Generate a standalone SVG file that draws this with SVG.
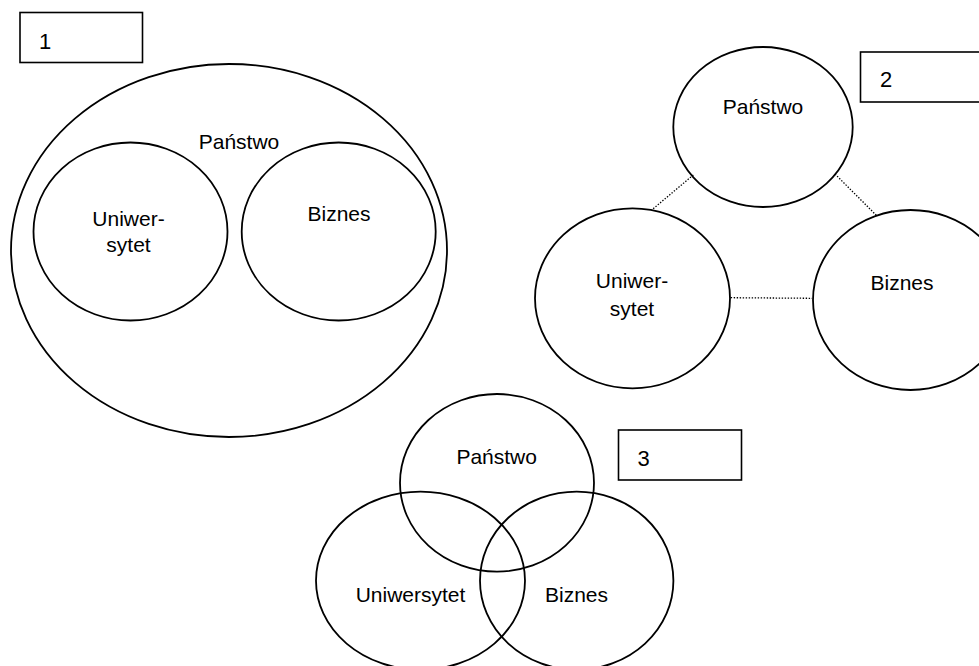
<svg xmlns="http://www.w3.org/2000/svg" width="979" height="666" viewBox="0 0 979 666">
<style>
.shape{fill:none;stroke:#000;stroke-width:1.8}
.box{fill:#fff;stroke:#000;stroke-width:1.6}
.lbl{font-family:"Liberation Sans",Arial,sans-serif;font-size:21px;fill:#000;text-anchor:middle}
.num{font-family:"Liberation Sans",Arial,sans-serif;font-size:22px;fill:#000}
.dot{stroke:#000;stroke-width:1.3;stroke-dasharray:1.4 1.6;fill:none}
</style>
<rect width="979" height="666" fill="#fff"/>

<!-- Diagram 1 -->
<g id="box1"><rect class="box" x="20" y="12.5" width="122.5" height="50"/><text class="num" x="39" y="48.5">1</text></g>
<g id="d1-panstwo"><ellipse class="shape" cx="229" cy="250.5" rx="218" ry="186.5"/><text class="lbl" x="239" y="149">Państwo</text></g>
<g id="d1-uniwersytet"><ellipse class="shape" cx="130.5" cy="231.5" rx="97" ry="89"/><text class="lbl" x="128.5" y="226">Uniwer-</text><text class="lbl" x="128.5" y="252">sytet</text></g>
<g id="d1-biznes"><ellipse class="shape" cx="338.7" cy="231.5" rx="97" ry="89"/><text class="lbl" x="339" y="221">Biznes</text></g>

<!-- Diagram 2 -->
<g id="connectors">
<line class="dot" x1="693.3" y1="175" x2="651.7" y2="210"/>
<line class="dot" x1="835" y1="174" x2="876.7" y2="215.7"/>
<line class="dot" x1="730.7" y1="297.7" x2="812" y2="298.3"/>
</g>
<g id="box2"><rect class="box" x="860.5" y="52" width="130" height="50"/><text class="num" x="880" y="86.5">2</text></g>
<g id="d2-panstwo"><ellipse class="shape" cx="763" cy="127" rx="89.7" ry="80"/><text class="lbl" x="763" y="114">Państwo</text></g>
<g id="d2-uniwersytet"><ellipse class="shape" cx="632.5" cy="298.3" rx="97.5" ry="90"/><text class="lbl" x="632" y="288">Uniwer-</text><text class="lbl" x="632" y="315.5">sytet</text></g>
<g id="d2-biznes"><ellipse class="shape" cx="910.5" cy="300" rx="97.5" ry="90"/><text class="lbl" x="902" y="290">Biznes</text></g>

<!-- Diagram 3 -->
<g id="box3"><rect class="box" x="618.5" y="430" width="123" height="50"/><text class="num" x="637.5" y="466">3</text></g>
<g id="d3-panstwo"><ellipse class="shape" cx="497" cy="482.8" rx="97" ry="88.8"/><text class="lbl" x="496.7" y="464">Państwo</text></g>
<g id="d3-uniwersytet"><ellipse class="shape" cx="420.5" cy="580.7" rx="104.5" ry="89"/><text class="lbl" x="410.5" y="601.7">Uniwersytet</text></g>
<g id="d3-biznes"><ellipse class="shape" cx="576.7" cy="580.7" rx="96.7" ry="89"/><text class="lbl" x="576.5" y="601.7">Biznes</text></g>
</svg>
